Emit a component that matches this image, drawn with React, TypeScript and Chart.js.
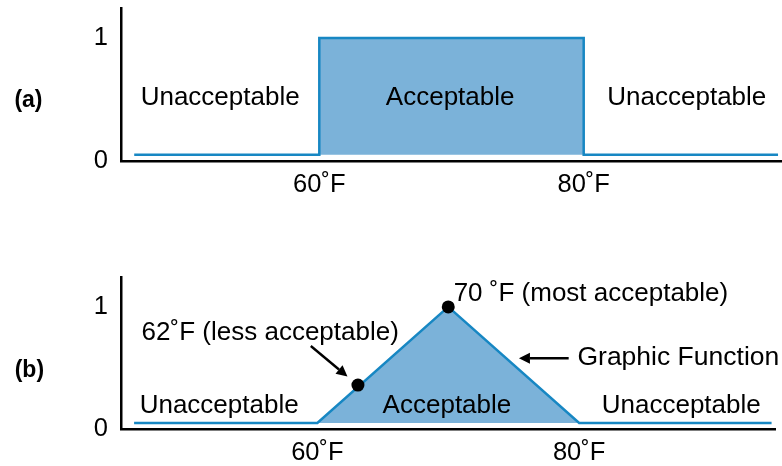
import React, { useEffect, useRef } from "react";
import { Chart, registerables } from "chart.js";

Chart.register(...registerables);

// ---- data ----
const xMin = 45;
const xMax = 95;
const yMin = 0;
const yMax = 1.245;
const xTickValues = [60, 80];
const yTickValues = [0, 1];
const tickUnit = "˚F";
const baseline = 0.05;

// (a) crisp set
const crispX = [46, 60, 60, 80, 80, 94.7];
const crispY = [0.05, 0.05, 1, 1, 0.05, 0.05];

// (b) fuzzy set
const fuzzyX = [46, 60, 70, 80, 94.7];
const fuzzyY = [0.05, 0.05, 1, 0.05, 0.05];

// marked points on (b)
const markX = [63.1, 70];
const markY = [0.36, 1];

// text annotations (data coordinates)
const textsA = [
  { text: "(a)", x: 38, y: 0.44, bold: true, size: 23, align: "center" },
  { text: "Unacceptable", x: 52.5, y: 0.455, bold: false, size: 26, align: "center" },
  { text: "Acceptable", x: 69.9, y: 0.455, bold: false, size: 26, align: "center" },
  { text: "Unacceptable", x: 87.8, y: 0.455, bold: false, size: 26, align: "center" },
];
const textsB = [
  { text: "(b)", x: 38, y: 0.43, bold: true, size: 23, align: "center" },
  { text: "Unacceptable", x: 52.5, y: 0.13, bold: false, size: 26, align: "center" },
  { text: "Acceptable", x: 69.9, y: 0.13, bold: false, size: 26, align: "center" },
  { text: "Unacceptable", x: 87.8, y: 0.13, bold: false, size: 26, align: "center" },
  { text: "62˚F (less acceptable)", x: 56.4, y: 0.73, bold: false, size: 26, align: "center" },
  { text: "70 ˚F (most acceptable)", x: 80.9, y: 1.05, bold: false, size: 26, align: "center" },
  { text: "Graphic Function", x: 79.87, y: 0.525, bold: false, size: 26.5, align: "left" },
];
const arrowsB = [
  { x1: 59.5, y1: 0.68, x2: 62.3, y2: 0.43 },
  { x1: 79.2, y1: 0.58, x2: 75.4, y2: 0.58 },
];

// ---- styles ----
const FONT = '"Liberation Sans", Arial, Helvetica, sans-serif';
const LINE_COLOR = "#1787c3";
const FILL_COLOR = "#7bb2d9";

type Txt = { text: string; x: number; y: number; bold: boolean; size: number; align: string };
type Arr = { x1: number; y1: number; x2: number; y2: number };

function annotatePlugin(texts: Txt[], arrows: Arr[]) {
  return {
    id: "annot",
    afterDatasetsDraw(chart: any) {
      const { ctx } = chart;
      const xs = chart.scales.x;
      const ys = chart.scales.y;
      ctx.save();
      for (const a of arrows) {
        const x1 = xs.getPixelForValue(a.x1);
        const y1 = ys.getPixelForValue(a.y1);
        const x2 = xs.getPixelForValue(a.x2);
        const y2 = ys.getPixelForValue(a.y2);
        const ang = Math.atan2(y2 - y1, x2 - x1);
        const hl = 11;
        const hw = 5.5;
        const bx = x2 - hl * Math.cos(ang);
        const by = y2 - hl * Math.sin(ang);
        ctx.strokeStyle = "#000";
        ctx.lineWidth = 2.4;
        ctx.beginPath();
        ctx.moveTo(x1, y1);
        ctx.lineTo(bx, by);
        ctx.stroke();
        ctx.fillStyle = "#000";
        ctx.beginPath();
        ctx.moveTo(x2, y2);
        ctx.lineTo(bx + hw * Math.sin(ang), by - hw * Math.cos(ang));
        ctx.lineTo(bx - hw * Math.sin(ang), by + hw * Math.cos(ang));
        ctx.closePath();
        ctx.fill();
      }
      for (const t of texts) {
        ctx.save();
        ctx.font = `${t.bold ? "bold " : ""}${t.size}px ${FONT}`;
        ctx.fillStyle = "#000";
        ctx.textBaseline = "alphabetic";
        ctx.textAlign = t.align as CanvasTextAlign;
        ctx.fillText(t.text, xs.getPixelForValue(t.x), ys.getPixelForValue(t.y));
        ctx.restore();
      }
      ctx.restore();
    },
  };
}

function makeConfig(
  lx: number[],
  ly: number[],
  px: number[],
  py: number[],
  texts: Txt[],
  arrows: Arr[],
  padTop: number,
  xAxisHeight: number
): any {
  const datasets: any[] = [
    {
      data: lx.map((x, i) => ({ x, y: ly[i] })),
      borderColor: LINE_COLOR,
      borderWidth: 2.5,
      backgroundColor: FILL_COLOR,
      fill: { value: baseline },
      pointRadius: 0,
      tension: 0,
      order: 2,
    },
  ];
  if (px.length) {
    datasets.unshift({
      data: px.map((x, i) => ({ x, y: py[i] })),
      showLine: false,
      pointRadius: 6.5,
      pointBackgroundColor: "#000",
      pointBorderColor: "#000",
      pointBorderWidth: 0,
      order: 1,
    });
  }
  const tickFont = { family: FONT, size: 25.5 };
  return {
    type: "line",
    data: { datasets },
    options: {
      animation: false,
      responsive: false,
      events: [],
      layout: { padding: { top: padTop, left: 0, right: 0, bottom: 0 } },
      plugins: { legend: { display: false }, tooltip: { enabled: false } },
      scales: {
        x: {
          type: "linear",
          min: xMin,
          max: xMax,
          grid: { display: false, drawTicks: false },
          border: { display: true, color: "#000", width: 2.5 },
          ticks: {
            font: tickFont,
            color: "#000",
            padding: 9,
            maxRotation: 0,
            callback: (v: number) => `${v}${tickUnit}`,
          },
          afterBuildTicks: (s: any) => {
            s.ticks = xTickValues.map((v) => ({ value: v }));
          },
          afterFit: (s: any) => {
            s.height = xAxisHeight;
            s.paddingLeft = 0;
            s.paddingRight = 0;
          },
        },
        y: {
          type: "linear",
          min: yMin,
          max: yMax,
          grid: { display: false, drawTicks: false },
          border: { display: true, color: "#000", width: 2.5 },
          ticks: {
            font: tickFont,
            color: "#000",
            padding: 13,
            callback: (v: number) => `${v}`,
          },
          afterBuildTicks: (s: any) => {
            s.ticks = yTickValues.map((v) => ({ value: v }));
          },
          afterFit: (s: any) => {
            s.width = 121;
            s.paddingTop = 0;
            s.paddingBottom = 0;
          },
        },
      },
    },
    plugins: [annotatePlugin(texts, arrows)],
  };
}

export default function App() {
  const refA = useRef<HTMLCanvasElement>(null);
  const refB = useRef<HTMLCanvasElement>(null);

  useEffect(() => {
    const a = new Chart(
      refA.current!,
      makeConfig(crispX, crispY, [], [], textsA, [], 8, 69)
    );
    const b = new Chart(
      refB.current!,
      makeConfig(fuzzyX, fuzzyY, markX, markY, textsB, arrowsB, 37, 37)
    );
    return () => {
      a.destroy();
      b.destroy();
    };
  }, []);

  return (
    <div style={{ position: "absolute", left: 0, top: 0, width: 782, height: 466, background: "#fff" }}>
      <canvas ref={refA} width={782} height={230} style={{ position: "absolute", left: 0, top: 0 }} />
      <canvas ref={refB} width={782} height={226} style={{ position: "absolute", left: 0, top: 240 }} />
    </div>
  );
}
